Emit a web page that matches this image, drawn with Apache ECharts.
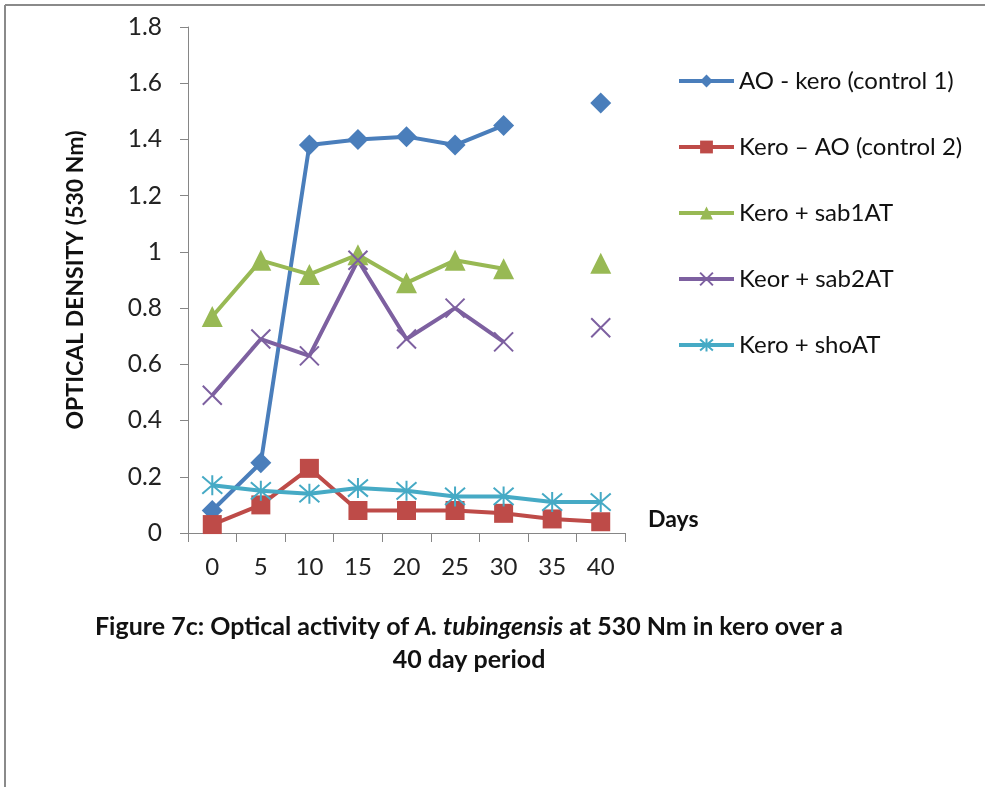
<!DOCTYPE html>
<html><head><meta charset="utf-8">
<script src="https://cdn.jsdelivr.net/npm/echarts@6/dist/echarts.min.js"></script>
<style>html,body{margin:0;padding:0;background:#fff}#c{width:985px;height:787px}</style>
</head><body><div id="c"></div>
<script>
const days = ['0','5','10','15','20','25','30','35','40'];
const yTicks = [0,0.2,0.4,0.6,0.8,1,1.2,1.4,1.6,1.8];
const aoKero   = [0.08,0.25,1.38,1.40,1.41,1.38,1.45,null,1.53];
const keroAO   = [0.03,0.10,0.23,0.08,0.08,0.08,0.07,0.05,0.04];
const sab1AT   = [0.77,0.97,0.92,0.99,0.89,0.97,0.94,null,0.96];
const sab2AT   = [0.49,0.69,0.63,0.97,0.69,0.80,0.68,null,0.73];
const shoAT    = [0.17,0.15,0.14,0.16,0.15,0.13,0.13,0.11,0.11];
const names = ['AO - kero (control 1)','Kero \u2013 AO (control 2)','Kero + sab1AT','Keor + sab2AT','Kero + shoAT'];

const FONT = 'Lato, "Open Sans", sans-serif';
const chart = echarts.init(document.getElementById('c'));
const xPath = 'path://M0,0L10,10M10,0L0,10';
const starPath = 'path://M5,0L5,10M0.7,0.7L9.3,9.3M9.3,0.7L0.7,9.3';
function ser(name, data, color, symbol, size, stroke){
  return {
    name, type:'line', data, connectNulls:false, showSymbol:true,
    symbol, symbolSize:size,
    lineStyle:{color, width:4},
    itemStyle: stroke ? {color:'rgba(0,0,0,0)', borderColor:color, borderWidth:2} : {color},
    emphasis:{disabled:true}
  };
}
chart.setOption({
  animation:false,
  grid:{left:188, right:360, top:27, bottom:254, containLabel:false},
  legend:{
    orient:'vertical', left:672, top:64, itemGap:42, itemWidth:55, itemHeight:16,
    lineStyle:{width:4},
    textStyle:{fontFamily:FONT, fontSize:24, color:'#111'},
    data:names
  },
  title:{
    text:'{b|Figure 7c: Optical activity of }{i|A. tubingensis}{b| at 530 Nm in kero over a}\n{b|40 day period}',
    left:464, top:605, textAlign:'center',
    textStyle:{
      rich:{
        b:{fontFamily:FONT, fontWeight:'bold', fontSize:25, color:'#111', lineHeight:33},
        i:{fontFamily:FONT, fontWeight:'bold', fontStyle:'italic', fontSize:25, color:'#111', lineHeight:33}
      }
    }
  },
  xAxis:{
    type:'category', data:days, boundaryGap:true,
    axisLine:{lineStyle:{color:'#868686', width:1}},
    axisTick:{show:true, length:9, alignWithLabel:false, lineStyle:{color:'#868686'}},
    axisLabel:{fontFamily:FONT, fontSize:24, color:'#222', margin:22},
    splitLine:{show:false}
  },
  yAxis:{
    type:'value', min:0, max:1.8, interval:0.2,
    name:'OPTICAL DENSITY (530 Nm)', nameLocation:'middle', nameRotate:90, nameGap:101,
    nameTextStyle:{fontFamily:FONT, fontWeight:'bold', fontSize:23, color:'#111'},
    axisLine:{show:true, lineStyle:{color:'#868686', width:1}},
    axisTick:{show:true, length:8, lineStyle:{color:'#868686'}},
    axisLabel:{fontFamily:FONT, fontSize:24.5, color:'#222', margin:26,
      formatter:v=>{const t=yTicks.find(x=>Math.abs(x-v)<1e-9); return t===undefined?'':String(t);}},
    splitLine:{show:false}
  },
  graphic:[
    {type:'line', shape:{x1:5,y1:5,x2:985,y2:5}, style:{stroke:'#8a8a8a', lineWidth:2}},
    {type:'line', shape:{x1:5,y1:5,x2:5,y2:787}, style:{stroke:'#8a8a8a', lineWidth:2}},
    {type:'text', left:648, top:508, style:{text:'Days', fontFamily:FONT, fontWeight:'bold', fontSize:23, fill:'#111'}}
  ],
  series:[
    ser(names[0], aoKero, '#4A7EBB', 'diamond', 21, false),
    ser(names[1], keroAO, '#BE4B48', 'rect', 19, false),
    ser(names[2], sab1AT, '#98B954', 'triangle', 21, false),
    ser(names[3], sab2AT, '#7D60A0', xPath, 19, true),
    ser(names[4], shoAT, '#46AAC5', starPath, 20, true)
  ]
});
</script></body></html>
